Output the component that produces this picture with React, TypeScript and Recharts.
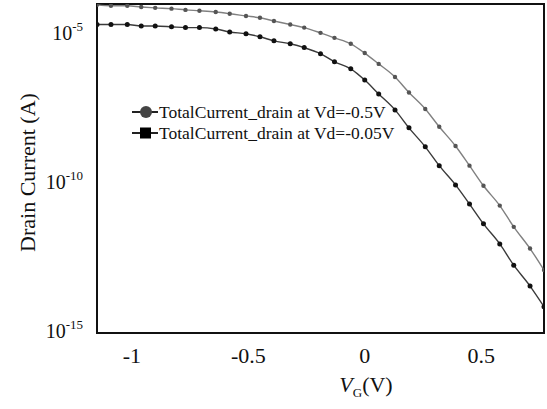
import { LineChart, Line, XAxis, YAxis, ReferenceArea } from "recharts";

// gate voltage sweep (V)
const vg = [
  -1.15, -1.09, -1.02, -0.96, -0.9, -0.83, -0.77, -0.71, -0.64, -0.58, -0.51,
  -0.45, -0.39, -0.32, -0.26, -0.19, -0.13, -0.06, 0, 0.06, 0.13, 0.19, 0.26,
  0.32, 0.39, 0.45, 0.51, 0.58, 0.64, 0.71, 0.77,
];

// drain current (A) at Vd = -0.5V
const idHigh = [
  8.7e-5, 8.1e-5, 8.1e-5, 7.4e-5, 6.9e-5, 6.5e-5, 5.9e-5, 5.5e-5, 5.0e-5, 4.4e-5,
  3.7e-5, 3.2e-5, 2.5e-5, 1.9e-5, 1.5e-5, 1.0e-5, 6.8e-6, 4.3e-6, 2.1e-6, 9.1e-7,
  3.3e-7, 1.0e-7, 2.8e-8, 7.1e-9, 1.6e-9, 3.5e-10, 7.4e-11, 1.6e-11, 3.1e-12,
  5.8e-13, 1.1e-13,
];

// drain current (A) at Vd = -0.05V
const idLow = [
  1.9e-5, 1.9e-5, 1.9e-5, 1.7e-5, 1.7e-5, 1.6e-5, 1.5e-5, 1.5e-5, 1.35e-5, 1.07e-5,
  9.3e-6, 7.4e-6, 5.4e-6, 4.3e-6, 3.2e-6, 2.0e-6, 1.07e-6, 6.2e-7, 2.6e-7, 8.9e-8,
  2.6e-8, 6.5e-9, 1.5e-9, 3.5e-10, 7.9e-11, 1.8e-11, 3.9e-12, 8.3e-13, 1.6e-13,
  3.2e-14, 6.5e-15,
];

const legendLabels = ["TotalCurrent_drain at Vd=-0.5V", "TotalCurrent_drain at Vd=-0.05V"];

const xTicks = [-1, -0.5, 0, 0.5];
const yTicks = [1e-15, 1e-10, 1e-5];
const xDomain = [-1.15, 0.77];
const yDomain = [8.5e-16, 9.3e-5];

const data = vg.map((v, i) => ({ v, high: idHigh[i], low: idLow[i] }));

const font = "'Liberation Serif', 'Times New Roman', serif";

function XTick({ x, y, payload }: any) {
  return (
    <text x={x} y={y + 22} textAnchor="middle" fontFamily={font} fontSize={22} fill="#111">
      {String(payload.value)}
    </text>
  );
}

function YTick({ x, y, payload }: any) {
  const exp = Math.round(Math.log10(payload.value));
  return (
    <text x={x - 6} y={y + 7} textAnchor="end" fontFamily={font} fontSize={20} fill="#111">
      10
      <tspan dy={-9} fontSize={13}>
        {exp}
      </tspan>
    </text>
  );
}

function LegendBox() {
  return (
    <svg width={290} height={46} style={{ fontFamily: font }}>
      {legendLabels.map((label, i) => {
        const cy = 10 + i * 21;
        return (
          <g key={label}>
            <line x1={2} x2={28} y1={cy} y2={cy} stroke="#222" strokeWidth={2} />
            {i === 0 ? (
              <circle cx={16} cy={cy} r={6} fill="#444" />
            ) : (
              <rect x={10} y={cy - 5.5} width={11} height={11} fill="#000" />
            )}
            <text x={29} y={cy + 6} fontFamily={font} fontSize={17.5} fill="#111">
              {label}
            </text>
          </g>
        );
      })}
    </svg>
  );
}

export default function App() {
  return (
    <div style={{ position: "absolute", left: 0, top: 0, width: 547, height: 409, background: "#fff" }}>
      <LineChart width={547} height={409} data={data} margin={{ top: 4, right: 3, left: 0, bottom: 0 }}>
        <XAxis
          dataKey="v"
          type="number"
          domain={xDomain}
          ticks={xTicks}
          allowDataOverflow
          axisLine={false}
          tickLine={false}
          height={76}
          tick={<XTick />}
          label={({ viewBox }: any) => (
            <text
              x={viewBox.x + 269}
              y={viewBox.y + 59}
              textAnchor="middle"
              fontFamily={font}
              fontSize={22}
              fill="#111"
            >
              <tspan fontStyle="italic">V</tspan>
              <tspan dy={5} fontSize={13}>G</tspan>
              <tspan dy={-5}>(V)</tspan>
            </text>
          )}
        />
        <YAxis
          type="number"
          scale="log"
          domain={yDomain}
          ticks={yTicks}
          allowDataOverflow
          axisLine={false}
          tickLine={false}
          width={97}
          tick={<YTick />}
          label={({ viewBox }: any) => (
            <text
              x={27}
              y={viewBox.y + viewBox.height / 2 + 4}
              textAnchor="middle"
              dominantBaseline="central"
              transform={`rotate(-90, 27, ${viewBox.y + viewBox.height / 2 + 4})`}
              fontFamily={font}
              fontSize={22}
              fill="#111"
            >
              Drain Current (A)
            </text>
          )}
        />
        <ReferenceArea
          x1={xDomain[0]}
          x2={xDomain[1]}
          y1={yDomain[0]}
          y2={yDomain[1]}
          fill="none"
          stroke="#111"
          strokeWidth={2}
          ifOverflow="visible"
        />
        <Line
          type="monotone"
          dataKey="high"
          stroke="#808080"
          strokeWidth={1.4}
          dot={{ r: 2.2, fill: "#555", stroke: "none" }}
          isAnimationActive={false}
        />
        <Line
          type="monotone"
          dataKey="low"
          stroke="#3a3a3a"
          strokeWidth={1.4}
          dot={{ r: 2.5, fill: "#111", stroke: "none" }}
          isAnimationActive={false}
        />
      </LineChart>
      <div style={{ position: "absolute", left: 130, top: 102 }}>
        <LegendBox />
      </div>
    </div>
  );
}
